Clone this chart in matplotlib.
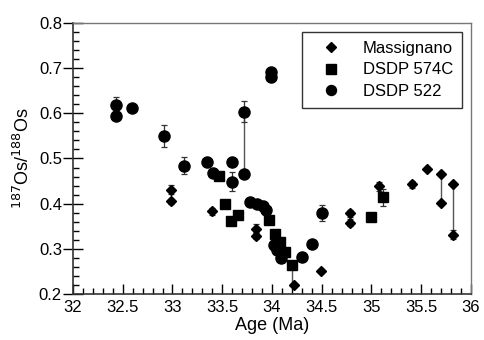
import matplotlib
matplotlib.use("Agg")
import matplotlib.pyplot as plt
from matplotlib.ticker import MultipleLocator, FuncFormatter

plt.rcParams['font.family'] = ['Liberation Sans', 'DejaVu Sans']

# Massignano (diamonds)
mas_age = [32.99, 32.99, 33.395, 33.84, 33.84, 34.22, 34.49, 34.78, 34.78, 35.08, 35.41, 35.56, 35.70, 35.70, 35.82, 35.82]
mas_os = [0.431, 0.405, 0.383, 0.344, 0.329, 0.220, 0.250, 0.379, 0.358, 0.439, 0.443, 0.477, 0.466, 0.402, 0.444, 0.331]
mas_err = [0.010, 0.006, 0.008, 0.010, 0.008, 0.0, 0.0, 0.008, 0.008, 0.010, 0.008, 0.0, 0.0, 0.0, 0.0, 0.010]

# DSDP 574C (squares)
s574_age = [33.47, 33.53, 33.585, 33.66, 33.975, 34.03, 34.08, 34.13, 34.20, 34.995, 35.115]
s574_os = [0.462, 0.400, 0.362, 0.375, 0.364, 0.333, 0.316, 0.292, 0.265, 0.370, 0.414]
s574_err = [0.0, 0.0, 0.0, 0.0, 0.0, 0.0, 0.0, 0.0, 0.0, 0.0, 0.019]

# DSDP 522 (circles)
s522_age = [32.435, 32.435, 32.59, 32.915, 33.12, 33.345, 33.41, 33.595, 33.595, 33.72, 33.72,
            33.99, 33.99, 33.78, 33.85, 33.91, 33.94, 34.02, 34.055, 34.09, 34.30, 34.40, 34.50]
s522_os = [0.619, 0.593, 0.611, 0.550, 0.484, 0.493, 0.467, 0.493, 0.449, 0.604, 0.466,
           0.692, 0.680, 0.403, 0.400, 0.394, 0.385, 0.309, 0.298, 0.279, 0.283, 0.311, 0.379]
s522_err = [0.018, 0.0, 0.0, 0.025, 0.019, 0.0, 0.0, 0.0, 0.020, 0.024, 0.0,
            0.0, 0.0, 0.0, 0.0, 0.0, 0.0, 0.0, 0.0, 0.0, 0.0, 0.0, 0.017]

# vertical range lines joining replicate analyses
range_age = [33.72, 34.20, 35.70, 35.82]
range_lo = [0.466, 0.220, 0.402, 0.331]
range_hi = [0.604, 0.265, 0.466, 0.444]

fig = plt.figure(figsize=(4.84, 3.40), dpi=100)
ax = fig.add_axes([0.1508, 0.1353, 0.8223, 0.7971])

ax.vlines(range_age, range_lo, range_hi, color='#555555', lw=1.0, zorder=1)

ekw = dict(ecolor='#333333', elinewidth=0.9, capsize=2.5, capthick=0.9, ls='none', zorder=2)
ax.errorbar(mas_age, mas_os, yerr=mas_err, **ekw)
ax.errorbar(s574_age, s574_os, yerr=s574_err, **ekw)
ax.errorbar(s522_age, s522_os, yerr=s522_err, **ekw)

ax.plot(mas_age, mas_os, 'D', color='black', ms=5.2, ls='none', label='Massignano', zorder=3)
ax.plot(s574_age, s574_os, 's', color='black', ms=7.5, ls='none', label='DSDP 574C', zorder=3)
ax.plot(s522_age, s522_os, 'o', color='black', ms=8, ls='none', label='DSDP 522', zorder=3)

ax.set_xlim(32, 36)
ax.set_ylim(0.2, 0.8)
ax.xaxis.set_major_locator(MultipleLocator(0.5))
ax.xaxis.set_minor_locator(MultipleLocator(0.1))
ax.yaxis.set_major_locator(MultipleLocator(0.1))
ax.yaxis.set_minor_locator(MultipleLocator(0.02))
ax.xaxis.set_major_formatter(FuncFormatter(lambda v, p: '%g' % v))
ax.yaxis.set_major_formatter(FuncFormatter(lambda v, p: '%.1f' % v))

ax.tick_params(axis='y', which='major', direction='inout', length=14, width=1, labelsize=12, pad=1)
ax.tick_params(axis='x', which='major', direction='in', length=7, width=1, labelsize=12, pad=4)
ax.tick_params(which='minor', direction='in', length=4, width=1)
for s in ['top', 'right']:
    ax.spines[s].set_color('#777777')
    ax.spines[s].set_linewidth(1.0)
for s in ['left', 'bottom']:
    ax.spines[s].set_color('#333333')
    ax.spines[s].set_linewidth(1.2)

ax.set_xlabel('Age (Ma)', fontsize=13, labelpad=2)
ax.set_ylabel(r'$^{187}$Os/$^{188}$Os', fontsize=13, labelpad=4)

leg = ax.legend(loc='upper right', bbox_to_anchor=(462 / 484, 1 - 32 / 340), bbox_transform=fig.transFigure,
                borderaxespad=0, frameon=True, fancybox=False,
                edgecolor='black', fontsize=12, handletextpad=0.7, borderpad=0.55,
                labelspacing=0.38, handlelength=2.4, markerscale=0.9)
leg.get_frame().set_linewidth(1.0)

fig.savefig('out.png', dpi=100)
